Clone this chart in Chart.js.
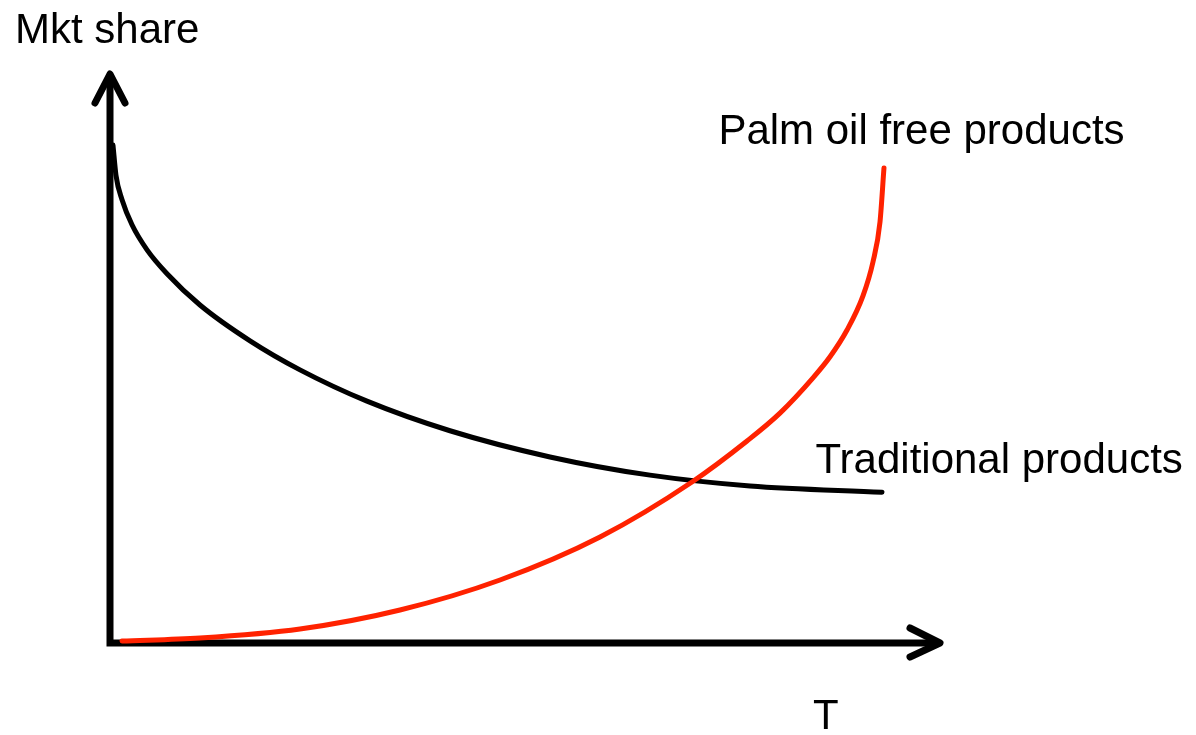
<!DOCTYPE html>
<html>
<head>
<meta charset="utf-8">
<title>Mkt share over T</title>
<script src="https://cdn.jsdelivr.net/npm/chart.js@4"></script>
<style>
  html, body { margin: 0; padding: 0; background: #fff; }
  #wrap { width: 1196px; height: 735px; }
</style>
</head>
<body>
<div id="wrap"><canvas id="chart1" width="1196" height="735"></canvas></div>
<script>
// data (T and share both on a 0..10 scale)
const tradT     = [0.036, 0.072, 0.145, 0.265, 0.446, 0.687, 1.084, 1.687, 2.289, 3.096, 4.096, 5.301, 6.506, 7.711, 9.301];
const tradShare = [8.75, 8.22, 7.79, 7.35, 6.91, 6.49, 5.94, 5.31, 4.8, 4.25, 3.73, 3.27, 2.95, 2.76, 2.65];

const palmT     = [0.145, 1.084, 2.289, 3.494, 4.699, 5.904, 7.012, 7.675, 8.072, 8.47, 8.675, 8.88, 9.072, 9.193, 9.277, 9.325];
const palmShare = [0.035, 0.088, 0.246, 0.58, 1.107, 1.863, 2.83, 3.55, 4.04, 4.66, 5.03, 5.5, 6.1, 6.7, 7.4, 8.35];

const axisMax = 10;
const labels = {
  yAxis: "Mkt share",
  xAxis: "T",
  palm: "Palm oil free products",
  trad: "Traditional products"
};

const RED = "#ff2200";
const FONT = '42px "Liberation Sans", Arial, sans-serif';

const zip = (xs, ys) => xs.map((x, i) => ({ x, y: ys[i] }));

// axes with arrow heads + the text labels
const sketchAxes = {
  id: "sketchAxes",
  beforeDatasetsDraw(chart) {
    const { ctx, scales: { x, y } } = chart;
    const x0 = x.getPixelForValue(0), xEnd = x.getPixelForValue(axisMax);
    const y0 = y.getPixelForValue(0), yEnd = y.getPixelForValue(axisMax);
    ctx.save();
    ctx.strokeStyle = "#000";
    ctx.lineWidth = 7;
    // axis lines meet in a square corner
    ctx.lineCap = "butt";
    ctx.lineJoin = "miter";
    ctx.beginPath();
    ctx.moveTo(x0, yEnd);
    ctx.lineTo(x0, y0);
    ctx.lineTo(xEnd, y0);
    ctx.stroke();
    // arrow heads
    ctx.lineCap = "round";
    ctx.lineJoin = "round";
    ctx.beginPath();
    ctx.moveTo(x0 - 15, yEnd + 29);
    ctx.lineTo(x0, yEnd);
    ctx.lineTo(x0 + 15, yEnd + 29);
    ctx.moveTo(xEnd - 30, y0 - 15);
    ctx.lineTo(xEnd, y0);
    ctx.lineTo(xEnd - 30, y0 + 14);
    ctx.stroke();
    ctx.restore();
  },
  afterDraw(chart) {
    const { ctx, scales: { x } } = chart;
    ctx.save();
    ctx.fillStyle = "#000";
    ctx.font = FONT;
    ctx.textBaseline = "alphabetic";
    ctx.textAlign = "left";
    ctx.fillText(labels.yAxis, 15, 43);
    ctx.fillText(labels.xAxis, x.getPixelForValue(8.47), 729);
    ctx.fillText(labels.palm, x.getPixelForValue(7.33), 144);
    ctx.fillText(labels.trad, x.getPixelForValue(8.5), 473);
    ctx.restore();
  }
};

const lineStyle = {
  showLine: true,
  borderWidth: 5,
  borderCapStyle: "round",
  pointRadius: 0,
  cubicInterpolationMode: "monotone",
  clip: false
};

const chart = new Chart(document.getElementById("chart1").getContext("2d"), {
  type: "scatter",
  data: {
    datasets: [
      { ...lineStyle, label: labels.palm, data: zip(palmT, palmShare), borderColor: RED },
      { ...lineStyle, label: labels.trad, data: zip(tradT, tradShare), borderColor: "#000" }
    ]
  },
  options: {
    responsive: false,
    animation: false,
    layout: { padding: { left: 110, right: 256, top: 74, bottom: 92 } },
    plugins: { legend: { display: false }, tooltip: { enabled: false } },
    scales: {
      x: { type: "linear", min: 0, max: axisMax, display: false },
      y: { type: "linear", min: 0, max: axisMax, display: false }
    }
  },
  plugins: [sketchAxes]
});
</script>
</body>
</html>
